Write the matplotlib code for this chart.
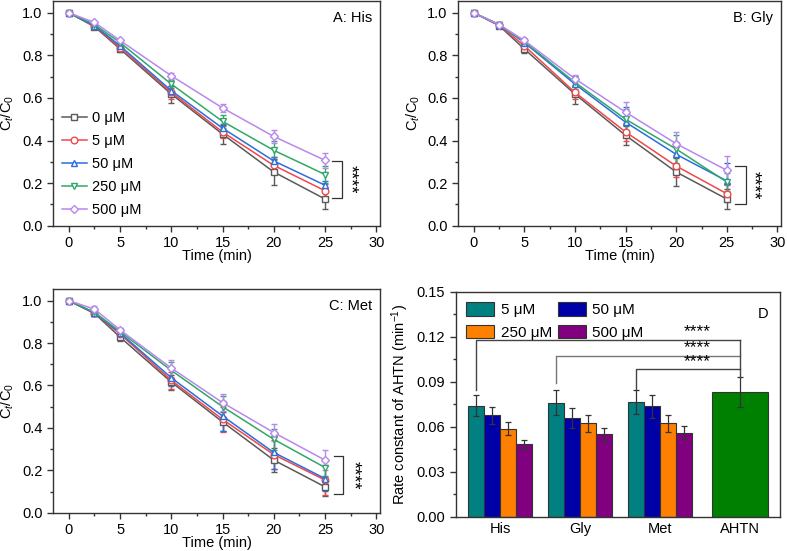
import matplotlib
matplotlib.use("Agg")
import matplotlib.pyplot as plt
import numpy as np
from matplotlib.ticker import MultipleLocator
from matplotlib.lines import Line2D

plt.rcParams['font.family'] = ['Liberation Sans', 'DejaVu Sans']
plt.rcParams['font.size'] = 10
plt.rcParams['mathtext.fontset'] = 'custom'
plt.rcParams['mathtext.rm'] = 'Liberation Sans'
plt.rcParams['mathtext.it'] = 'Liberation Sans:italic'

time = [0, 2.5, 5, 10, 15, 20, 25]
conc_labels = ["0 μM", "5 μM", "50 μM", "250 μM", "500 μM"]

# Panel A: His
his_vals = [
    [1.0, 0.935, 0.830, 0.618, 0.430, 0.252, 0.125],
    [1.0, 0.938, 0.836, 0.626, 0.440, 0.283, 0.164],
    [1.0, 0.940, 0.845, 0.634, 0.458, 0.304, 0.190],
    [1.0, 0.945, 0.860, 0.665, 0.490, 0.354, 0.240],
    [1.0, 0.955, 0.870, 0.704, 0.553, 0.419, 0.307],
]
his_err = [
    [0, 0.010, 0.015, 0.040, 0.045, 0.060, 0.045],
    [0, 0.010, 0.012, 0.030, 0.030, 0.040, 0.030],
    [0, 0.010, 0.012, 0.020, 0.020, 0.020, 0.020],
    [0, 0.008, 0.010, 0.020, 0.030, 0.045, 0.040],
    [0, 0.008, 0.008, 0.015, 0.020, 0.030, 0.035],
]
# Panel B: Gly
gly_vals = [
    [1.0, 0.940, 0.830, 0.618, 0.424, 0.252, 0.125],
    [1.0, 0.942, 0.845, 0.626, 0.440, 0.280, 0.150],
    [1.0, 0.945, 0.860, 0.665, 0.486, 0.335, 0.210],
    [1.0, 0.945, 0.864, 0.673, 0.500, 0.360, 0.205],
    [1.0, 0.945, 0.870, 0.690, 0.533, 0.385, 0.260],
]
gly_err = [
    [0, 0.010, 0.020, 0.045, 0.045, 0.065, 0.045],
    [0, 0.010, 0.015, 0.030, 0.040, 0.050, 0.040],
    [0, 0.010, 0.015, 0.035, 0.070, 0.060, 0.085],
    [0, 0.010, 0.015, 0.030, 0.050, 0.065, 0.040],
    [0, 0.008, 0.010, 0.020, 0.050, 0.055, 0.065],
]
# Panel C: Met
met_vals = [
    [1.0, 0.940, 0.828, 0.616, 0.428, 0.248, 0.122],
    [1.0, 0.940, 0.843, 0.624, 0.440, 0.274, 0.154],
    [1.0, 0.942, 0.848, 0.636, 0.456, 0.284, 0.161],
    [1.0, 0.945, 0.854, 0.671, 0.500, 0.346, 0.213],
    [1.0, 0.960, 0.862, 0.682, 0.519, 0.378, 0.248],
]
met_err = [
    [0, 0.010, 0.020, 0.035, 0.045, 0.055, 0.045],
    [0, 0.010, 0.015, 0.040, 0.060, 0.070, 0.070],
    [0, 0.010, 0.020, 0.040, 0.070, 0.080, 0.060],
    [0, 0.010, 0.015, 0.040, 0.050, 0.050, 0.040],
    [0, 0.015, 0.010, 0.040, 0.040, 0.042, 0.047],
]

# Panel D: rate constants
groups = ["His", "Gly", "Met", "AHTN"]
bar_labels = ["5 μM", "50 μM", "250 μM", "500 μM"]
rate_his = [0.0738, 0.0676, 0.0587, 0.0482]
rate_gly = [0.0760, 0.0658, 0.0622, 0.0549]
rate_met = [0.0762, 0.0736, 0.0622, 0.0560]
rate_his_err = [0.0070, 0.0055, 0.0042, 0.0030]
rate_gly_err = [0.0084, 0.0067, 0.0058, 0.0044]
rate_met_err = [0.0080, 0.0078, 0.0056, 0.0044]
rate_ahtn = 0.0833
rate_ahtn_err = 0.0100

line_colors = ['#5a5a5a', '#f04848', '#2a6ee0', '#30a868', '#b888ee']
markers = ['s', 'o', '^', 'v', 'D']
msizes = [4.5, 4.8, 5, 5, 4.3]
bar_colors = ['#008080', '#0000a8', '#ff8000', '#800080']
ahtn_color = '#008000'
frame_color = '#333333'

fig = plt.figure(figsize=(7.87, 5.51), dpi=100)

def style_axes(ax):
    for s in ax.spines.values():
        s.set_color(frame_color)
        s.set_linewidth(1.0)
    ax.tick_params(which='both', direction='out', top=False, right=False,
                   color=frame_color, labelsize=10.5)
    ax.tick_params(which='major', length=4, width=1)
    ax.tick_params(which='minor', length=2.2, width=1)

def kinetic_panel(rect, vals, errs, label, bracket, legend=False):
    ax = fig.add_axes(rect)
    for i in range(5):
        ax.errorbar(time, vals[i], yerr=errs[i], color=line_colors[i], lw=1.1,
                    marker=markers[i], ms=msizes[i], mfc='white', mec=line_colors[i],
                    mew=1.0, capsize=2.5, elinewidth=1.0, capthick=1.0)
    ax.set_xlim(-1.55, 30.4)
    ax.set_ylim(0, 1.055)
    ax.xaxis.set_major_locator(MultipleLocator(5))
    ax.xaxis.set_minor_locator(MultipleLocator(2.5))
    ax.yaxis.set_major_locator(MultipleLocator(0.2))
    ax.yaxis.set_minor_locator(MultipleLocator(0.1))
    ax.set_yticks([0, 0.2, 0.4, 0.6, 0.8, 1.0])
    ax.set_yticklabels(["0.0", "0.2", "0.4", "0.6", "0.8", "1.0"])
    ax.set_xlabel("Time (min)", fontsize=10.5, labelpad=-0.5)
    ax.set_ylabel(r"C$_t$/C$_0$", fontsize=10.5, labelpad=4)
    ax.text(0.975, 0.955, label, transform=ax.transAxes, ha='right', va='top',
            fontsize=10.5)
    xb, xh, ytop, ybot, xs = bracket
    ax.plot([xh, xb, xb, xh], [ytop, ytop, ybot, ybot], color='#333333', lw=0.9)
    ax.text(xs, (ytop + ybot) / 2, "****", rotation=-90, ha='center', va='center',
            fontsize=13)
    style_axes(ax)
    if legend:
        handles = [Line2D([], [], color=line_colors[i], lw=1.1, marker=markers[i],
                          ms=msizes[i], mfc='white', mec=line_colors[i], mew=1.0)
                   for i in range(5)]
        ax.legend(handles, conc_labels, loc='lower left', frameon=False,
                  fontsize=10.5, handlelength=1.7, handletextpad=0.35,
                  labelspacing=0.62, borderaxespad=0.2, bbox_to_anchor=(0.0, 0.0))
    return ax

kinetic_panel([0.0673, 0.5905, 0.416, 0.4075], his_vals, his_err, "A: His",
              (26.65, 25.7, 0.305, 0.128, 27.4), legend=True)
kinetic_panel([0.582, 0.5905, 0.411, 0.4075], gly_vals, gly_err, "B: Gly",
              (26.9, 25.8, 0.279, 0.104, 27.6))
kinetic_panel([0.0673, 0.0695, 0.416, 0.406], met_vals, met_err, "C: Met",
              (26.8, 25.9, 0.266, 0.088, 27.7))

# Panel D
axd = fig.add_axes([0.579, 0.0623, 0.412, 0.4083])
x = np.arange(3)
w = 0.2
rates = [rate_his, rate_gly, rate_met]
rerrs = [rate_his_err, rate_gly_err, rate_met_err]
for j in range(4):
    h = [rates[g][j] for g in range(3)]
    e = [rerrs[g][j] for g in range(3)]
    axd.bar(x + (j - 1.5) * w, h, width=w, color=bar_colors[j], edgecolor='#333333',
            linewidth=0.8, yerr=e, capsize=2.5,
            error_kw=dict(ecolor='#333333', elinewidth=0.9, capthick=0.9),
            label=bar_labels[j])
axd.bar([3], [rate_ahtn], width=0.7, color=ahtn_color, edgecolor='#333333',
        linewidth=0.8, yerr=[rate_ahtn_err], capsize=2.5,
        error_kw=dict(ecolor='#333333', elinewidth=0.9, capthick=0.9))
axd.set_xlim(-0.555, 3.5)
axd.set_ylim(0, 0.15)
axd.set_xticks(np.arange(4))
axd.set_xticklabels(groups)
axd.yaxis.set_major_locator(MultipleLocator(0.03))
axd.yaxis.set_minor_locator(MultipleLocator(0.015))
axd.set_yticks([0, 0.03, 0.06, 0.09, 0.12, 0.15])
axd.set_yticklabels(["0.00", "0.03", "0.06", "0.09", "0.12", "0.15"])
axd.set_ylabel(r"Rate constant of AHTN (min$^{-1}$)", fontsize=10.5, labelpad=4)
axd.text(0.965, 0.93, "D", transform=axd.transAxes, ha='right', va='top', fontsize=10.5)
style_axes(axd)
axd.tick_params(axis='x', which='both', length=0)

# significance brackets
brackets = [(-0.3, 0.0845, 0.1178, '#444444'),
            (0.7, 0.0889, 0.1073, '#777777'),
            (1.7, 0.0850, 0.0982, '#444444')]
for xl, yb, yl, c in brackets:
    axd.plot([xl, xl, 3.0], [yb, yl, yl], color=c, lw=1.0)
    axd.text(2.46, yl + 0.0005, "****", ha='center', va='bottom', fontsize=12.5)
axd.plot([3.0, 3.0], [0.1178, rate_ahtn + rate_ahtn_err], color='#444444', lw=1.0)

handles, labels = axd.get_legend_handles_labels()
order = [0, 2, 1, 3]
axd.legend([handles[i] for i in order], [labels[i] for i in order], ncol=2,
           loc='upper left', frameon=False, fontsize=11, handlelength=1.8,
           handleheight=0.95, handletextpad=0.45, columnspacing=0.4,
           labelspacing=0.5, borderaxespad=0.3)

fig.savefig("out.png", dpi=100)
